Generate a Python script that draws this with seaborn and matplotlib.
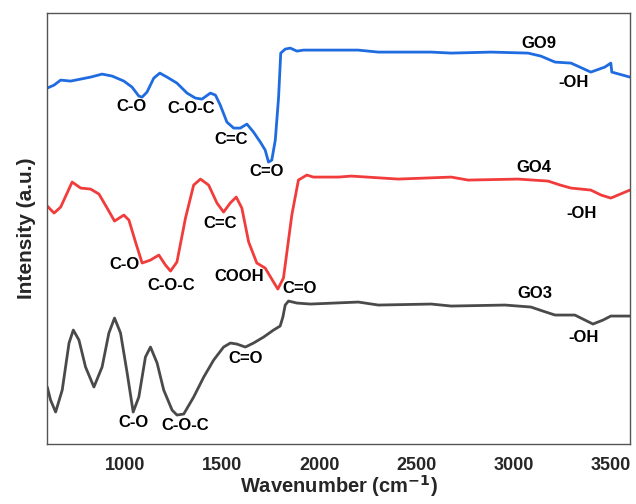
import numpy as np
import pandas as pd
import matplotlib
matplotlib.use("Agg")
import matplotlib.pyplot as plt
import seaborn as sns

# Wavenumber (cm-1) and intensity (a.u., arbitrary offset scale)
go9_x = [601, 636, 670, 721, 773, 824, 883, 935, 995, 1037, 1072, 1089, 1114, 1149,
         1180, 1217, 1268, 1320, 1363, 1397, 1440, 1466, 1491, 1525, 1560, 1594, 1628,
         1662, 1697, 1722, 1739, 1756, 1774, 1791, 1802, 1825, 1851, 1885, 1919,
         2200, 2304, 2576, 2679, 2884, 3074, 3140, 3213, 3295, 3397, 3469, 3500, 3505, 3598]
go9_y = [356, 359, 364, 363, 365, 367, 370, 368, 363, 357, 348, 347, 352, 366,
         371, 367, 361, 351, 346, 345, 351, 349, 339, 322, 316, 316, 320,
         312, 302, 294, 282, 284, 304, 347, 391, 395, 396, 393, 394,
         394, 392, 392, 391, 392, 391, 388, 382, 381, 372, 377, 381, 372, 367]

go4_x = [601, 636, 670, 729, 773, 824, 867, 909, 947, 995, 1021, 1055, 1089, 1132,
         1175, 1209, 1235, 1268, 1312, 1354, 1389, 1431, 1474, 1508, 1542, 1573, 1602,
         1637, 1679, 1722, 1765, 1787, 1816, 1859, 1893, 1936, 1970, 2100, 2165, 2407,
         2679, 2766, 3022, 3177, 3240, 3295, 3397, 3450, 3500, 3598]
go4_y = [238, 231, 237, 262, 256, 255, 250, 236, 223, 229, 224, 202, 181, 184,
         189, 179, 173, 182, 226, 259, 265, 259, 241, 232, 241, 247, 236,
         202, 181, 176, 162, 155, 166, 229, 264, 269, 267, 267, 268, 265,
         267, 264, 265, 263, 259, 256, 254, 249, 246, 254]

go3_x = [601, 618, 644, 678, 713, 735, 764, 798, 841, 883, 918, 947, 978, 1012,
         1043, 1072, 1106, 1132, 1166, 1200, 1243, 1268, 1303, 1354, 1406, 1457, 1508,
         1543, 1576, 1620, 1662, 1714, 1765, 1799, 1813, 1825, 1842, 1885, 1954,
         2201, 2304, 2576, 2679, 2956, 3089, 3150, 3213, 3315, 3408, 3460, 3500, 3600]
go3_y = [57, 44, 32, 54, 101, 114, 104, 77, 57, 77, 111, 126, 111, 71,
         32, 47, 87, 97, 81, 54, 34, 29, 30, 47, 67, 84, 97,
         101, 100, 97, 101, 107, 114, 118, 127, 139, 143, 141, 140,
         142, 139, 140, 138, 139, 137, 133, 129, 129, 120, 124, 128, 128]

colors = {"GO9": "#1f6be0", "GO4": "#f23b3b", "GO3": "#4a4a4a"}

xticks = [1000, 1500, 2000, 2500, 3000, 3500]

frames = []
for name, xs, ys in [("GO9", go9_x, go9_y), ("GO4", go4_x, go4_y), ("GO3", go3_x, go3_y)]:
    frames.append(pd.DataFrame({"Wavenumber": xs, "Intensity": ys, "Sample": name}))
df = pd.concat(frames, ignore_index=True)

sns.set_style("white")
plt.rcParams["font.family"] = ["Liberation Sans", "DejaVu Sans"]

fig = plt.figure(figsize=(6.36, 5.04), dpi=100)
ax = fig.add_axes([0.074, 0.119, 0.917, 0.855])

sns.lineplot(data=df, x="Wavenumber", y="Intensity", hue="Sample", palette=colors,
             estimator=None, sort=False, linewidth=2.0, legend=False, ax=ax)
for ln in ax.lines:
    ln.set_solid_joinstyle("round")

ax.set_xlim(600, 3600)
ax.set_ylim(0, 431)
ax.set_xticks(xticks)
ax.set_xticklabels([str(t) for t in xticks], fontsize=13, fontweight="bold")
ax.set_yticks([])
ax.tick_params(axis="x", direction="out", length=5, width=1, color="#555555", pad=4)
ax.set_xlabel("Wavenumber (cm$^{\\mathbf{-1}}$)", fontsize=14.5, fontweight="bold", labelpad=0)
ax.set_ylabel("Intensity (a.u.)", fontsize=15, fontweight="bold", labelpad=8)
for s in ax.spines.values():
    s.set_color("#555555")
    s.set_linewidth(1.0)

# annotations: (text, wavenumber, intensity)
labels = [
    ("C-O", 1035, 338), ("C-O-C", 1340, 336), ("C=C", 1545, 305), ("C=O", 1730, 273),
    ("GO9", 3130, 401), ("-OH", 3310, 362),
    ("C-O", 1000, 180), ("C-O-C", 1240, 159), ("C=C", 1490, 221), ("COOH", 1590, 168),
    ("C=O", 1900, 156), ("GO4", 3105, 277), ("-OH", 3350, 231),
    ("C-O", 1045, 22), ("C-O-C", 1310, 19), ("C=O", 1620, 86),
    ("GO3", 3110, 151), ("-OH", 3360, 107),
]
for t, x, y in labels:
    ax.text(x, y, t, ha="center", va="center", fontsize=12, fontweight="bold", color="black")

fig.savefig("out.png", dpi=100)
